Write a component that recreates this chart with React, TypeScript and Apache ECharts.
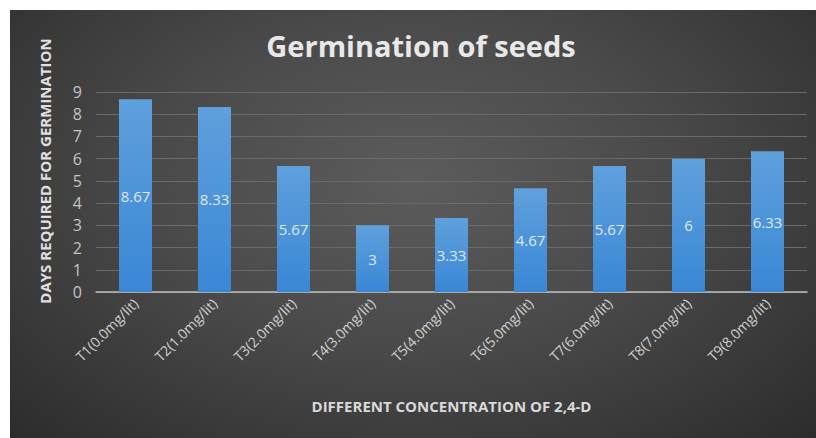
import React, { useEffect, useRef } from "react";
import * as echarts from "echarts";

const categories = [
  "T1(0.0mg/lit)",
  "T2(1.0mg/lit)",
  "T3(2.0mg/lit)",
  "T4(3.0mg/lit)",
  "T5(4.0mg/lit)",
  "T6(5.0mg/lit)",
  "T7(6.0mg/lit)",
  "T8(7.0mg/lit)",
  "T9(8.0mg/lit)",
];
const daysValues = [8.67, 8.33, 5.67, 3, 3.33, 4.67, 5.67, 6, 6.33];
const yTicks = [0, 1, 2, 3, 4, 5, 6, 7, 8, 9];
const yAxisTitle = "DAYS REQUIRED FOR GERMINATION";

export default function App() {
  const ref = useRef<HTMLDivElement>(null);
  useEffect(() => {
    if (!ref.current) return;
    const chart = echarts.init(ref.current, undefined, { renderer: "svg" });
    chart.setOption({
      animation: false,
      title: {
        text: "Germination of seeds",
        left: 406,
        top: 16,
        textAlign: "center",
        textStyle: {
          color: "#e8e8e8",
          fontSize: 29,
          fontWeight: "bold",
          fontFamily: "Open Sans",
        },
      },
      graphic: [
        {
          type: "text",
          x: 35,
          y: 161,
          rotation: Math.PI / 2,
          style: {
            text: yAxisTitle,
            fill: "#e0e0e0",
            fontSize: 15,
            fontWeight: "bold",
            fontFamily: "Open Sans",
            align: "center",
            verticalAlign: "middle",
          },
        },
      ],
      grid: { left: 86, right: 9, top: 82, bottom: 146, containLabel: false },
      xAxis: {
        type: "category",
        data: categories,
        name: "DIFFERENT CONCENTRATION OF 2,4-D",
        nameLocation: "middle",
        nameGap: 106,
        nameTextStyle: {
          color: "#d9d9d9",
          fontSize: 15,
          fontWeight: "bold",
          fontFamily: "Open Sans",
        },
        axisLine: { lineStyle: { color: "#bfbfbf", width: 1.5 } },
        axisTick: { show: false },
        axisLabel: {
          rotate: 45,
          interval: 0,
          color: "#d0d0d0",
          fontSize: 14,
          fontFamily: "Open Sans",
          margin: 9,
        },
      },
      yAxis: {
        type: "value",
        min: yTicks[0],
        max: yTicks[yTicks.length - 1],
        interval: 1,
        axisLine: { show: false },
        axisTick: { show: false },
        axisLabel: {
          color: "#c4c4c4",
          fontSize: 16,
          fontFamily: "Open Sans",
          margin: 14,
        },
        splitLine: { lineStyle: { color: "#6a6a6a", width: 1 } },
      },
      series: [
        {
          type: "bar",
          data: daysValues,
          barWidth: 33,
          itemStyle: {
            color: new echarts.graphic.LinearGradient(0, 0, 0, 1, [
              { offset: 0, color: "#5fa0dc" },
              { offset: 1, color: "#3a87d6" },
            ]),
          },
          label: {
            show: true,
            position: "inside",
            color: "#dde8f2",
            fontSize: 15,
            fontFamily: "Open Sans",
          },
        },
      ],
    });
    return () => chart.dispose();
  }, []);
  return (
    <div
      style={{
        position: "absolute",
        left: 0,
        top: 0,
        width: 816,
        height: 438,
        background: "#ffffff",
      }}
    >
      <div
        style={{
          position: "absolute",
          left: 10,
          top: 10,
          width: 806,
          height: 428,
          background:
            "radial-gradient(ellipse at 50% 40%, #5c5c5c 0%, #4a4a4a 45%, #2c2c2c 100%)",
        }}
      >
        <div ref={ref} style={{ width: 806, height: 428 }} />
      </div>
    </div>
  );
}
